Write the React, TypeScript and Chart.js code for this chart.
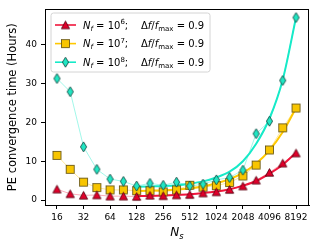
import React, { useEffect, useRef } from 'react';
import { Chart, registerables } from 'chart.js';
Chart.register(...registerables);

// ---- data ----
const NS = [16, 22.6, 32, 45.3, 64, 90.5, 128, 181, 256, 362, 512, 724, 1024, 1448, 2048, 2896, 4096, 5793, 8192];
const T_NF6 = [2.8, 1.6, 1.2, 1.3, 1.0, 1.0, 0.9, 1.2, 1.1, 1.3, 1.4, 1.8, 2.1, 2.7, 3.6, 5.1, 7.1, 9.5, 12.1];
const T_NF7 = [11.5, 7.9, 4.6, 3.2, 2.6, 2.6, 2.4, 2.4, 2.1, 2.6, 3.8, 3.3, 3.7, 4.5, 6.2, 9.0, 12.9, 18.6, 23.7];
const T_NF8 = [31.3, 27.9, 13.7, 7.9, 5.4, 4.8, 3.6, 4.3, 3.8, 4.6, 3.6, 4.1, 5.2, 5.8, 7.7, 17.1, 20.3, 30.8, 47.0];

// fitted trend curves
const FIT_NS = [128, 181, 256, 362, 512, 724, 1024, 1448, 2048, 2896, 4096, 5793, 8192];
const FIT_NF6 = [1.0, 1.05, 1.15, 1.3, 1.5, 1.8, 2.2, 2.8, 3.7, 4.9, 6.8, 9.1, 12.2];
const FIT_NF7 = [2.3, 2.4, 2.5, 2.7, 3.0, 3.5, 4.3, 5.4, 7.0, 9.4, 12.8, 17.5, 23.7];
const FIT_NF8 = [3.4, 3.5, 3.6, 3.8, 4.2, 4.8, 5.8, 7.3, 10.0, 14.5, 21.0, 31.0, 47.0];

const X_TICKS = [16, 32, 64, 128, 256, 512, 1024, 2048, 4096, 8192];
const Y_TICKS = [0, 10, 20, 30, 40];

const FONT = '"DejaVu Sans"';
const RED = 'rgb(240,22,60)';
const YEL = 'rgb(255,200,0)';
const CYA = 'rgb(22,234,200)';
const RED_F = 'rgba(240,22,60,0.35)';
const YEL_F = 'rgba(255,200,0,0.4)';
const CYA_F = 'rgba(22,234,200,0.4)';

function makeCanvas(w: number, h: number, draw: (c: CanvasRenderingContext2D) => void) {
  const cv = document.createElement('canvas');
  cv.width = w;
  cv.height = h;
  const c = cv.getContext('2d')!;
  draw(c);
  return cv;
}

type Seg = { t: string; it?: boolean; sub?: boolean; sup?: boolean };

function richWidth(ctx: CanvasRenderingContext2D, segs: Seg[], size: number) {
  let w = 0;
  for (const s of segs) {
    const fs = s.sub || s.sup ? size * 0.7 : size;
    ctx.font = `${s.it ? 'italic ' : ''}${fs}px ${FONT}`;
    w += ctx.measureText(s.t).width;
  }
  return w;
}

function drawRich(ctx: CanvasRenderingContext2D, segs: Seg[], x: number, y: number, size: number) {
  let cx = x;
  for (const s of segs) {
    const fs = s.sub || s.sup ? size * 0.7 : size;
    ctx.font = `${s.it ? 'italic ' : ''}${fs}px ${FONT}`;
    const dy = s.sub ? size * 0.22 : s.sup ? -size * 0.42 : 0;
    ctx.fillText(s.t, cx, y + dy);
    cx += ctx.measureText(s.t).width;
  }
  return cx;
}

export default function App() {
  const ref = useRef<HTMLCanvasElement | null>(null);

  useEffect(() => {
    if (!ref.current) return;

    const tri = makeCanvas(11, 11, (c) => {
      c.beginPath();
      c.moveTo(5.5, 1.6);
      c.lineTo(1.4, 9.2);
      c.lineTo(9.6, 9.2);
      c.closePath();
      c.fillStyle = '#e0002a';
      c.fill();
      c.strokeStyle = '#4a0010';
      c.lineWidth = 0.8;
      c.stroke();
    });
    const sq = makeCanvas(11, 11, (c) => {
      c.fillStyle = '#f8c500';
      c.fillRect(1.4, 1.4, 8.2, 8.2);
      c.strokeStyle = '#5a4a10';
      c.lineWidth = 0.8;
      c.strokeRect(1.4, 1.4, 8.2, 8.2);
    });
    const dia = makeCanvas(9, 12, (c) => {
      c.beginPath();
      c.moveTo(4.5, 1.0);
      c.lineTo(7.6, 6);
      c.lineTo(4.5, 11.0);
      c.lineTo(1.4, 6);
      c.closePath();
      c.fillStyle = '#20e6c3';
      c.fill();
      c.strokeStyle = '#0e3b35';
      c.lineWidth = 0.8;
      c.stroke();
    });

    const pts = (xs: number[], ys: number[]) => xs.map((x, i) => ({ x, y: ys[i] }));

    const legendRows = [
      { color: RED, marker: tri, exp: '6' },
      { color: YEL, marker: sq, exp: '7' },
      { color: CYA, marker: dia, exp: '8' },
    ];

    const overlay = {
      id: 'overlay',
      afterDraw(chart: any) {
        const ctx: CanvasRenderingContext2D = chart.ctx;
        const a = chart.chartArea;
        ctx.save();
        // full frame
        ctx.strokeStyle = '#000';
        ctx.lineWidth = 1;
        ctx.strokeRect(Math.round(a.left) + 0.5, Math.round(a.top) + 0.5, Math.round(a.right - a.left) - 1, Math.round(a.bottom - a.top));

        // legend box
        const lx = 51, ly = 13, lw = 159, lh = 59, r = 2.5;
        ctx.beginPath();
        ctx.moveTo(lx + r, ly);
        ctx.lineTo(lx + lw - r, ly);
        ctx.quadraticCurveTo(lx + lw, ly, lx + lw, ly + r);
        ctx.lineTo(lx + lw, ly + lh - r);
        ctx.quadraticCurveTo(lx + lw, ly + lh, lx + lw - r, ly + lh);
        ctx.lineTo(lx + r, ly + lh);
        ctx.quadraticCurveTo(lx, ly + lh, lx, ly + lh - r);
        ctx.lineTo(lx, ly + r);
        ctx.quadraticCurveTo(lx, ly, lx + r, ly);
        ctx.closePath();
        ctx.fillStyle = 'rgba(255,255,255,0.85)';
        ctx.fill();
        ctx.strokeStyle = '#d4d4d4';
        ctx.lineWidth = 1;
        ctx.stroke();

        ctx.textBaseline = 'alphabetic';
        ctx.textAlign = 'left';
        ctx.fillStyle = '#000';
        legendRows.forEach((row, i) => {
          const cy = 25 + i * 18.6;
          ctx.strokeStyle = row.color;
          ctx.lineWidth = 1.6;
          ctx.beginPath();
          ctx.moveTo(55, cy);
          ctx.lineTo(76, cy);
          ctx.stroke();
          const m = row.marker;
          ctx.drawImage(m, 65.5 - m.width / 2, cy - m.height / 2);
          ctx.fillStyle = '#000';
          const base = cy + 3.6;
          drawRich(ctx, [
            { t: 'N', it: true },
            { t: 'f', it: true, sub: true },
            { t: ' = 10' },
            { t: row.exp, sup: true },
            { t: ';' },
          ], 83, base, 10);
          drawRich(ctx, [
            { t: 'Δ' },
            { t: 'f', it: true },
            { t: '/' },
            { t: 'f', it: true },
            { t: 'max', sub: true },
            { t: ' = 0.9' },
          ], 141, base, 10);
        });

        // y title
        ctx.save();
        ctx.translate(13, (a.top + a.bottom) / 2);
        ctx.rotate(-Math.PI / 2);
        ctx.textAlign = 'center';
        ctx.textBaseline = 'middle';
        ctx.font = `11.5px ${FONT}`;
        ctx.fillStyle = '#000';
        ctx.fillText('PE convergence time (Hours)', 0, 0);
        ctx.restore();

        // x title
        const xsegs: Seg[] = [{ t: 'N', it: true }, { t: 's', it: true, sub: true }];
        const w = richWidth(ctx, xsegs, 12);
        ctx.textAlign = 'left';
        ctx.fillStyle = '#000';
        drawRich(ctx, xsegs, (a.left + a.right) / 2 - w / 2, 236, 12);
        ctx.restore();
      },
    };

    const chart = new Chart(ref.current, {
      type: 'line',
      data: {
        datasets: [
          {
            data: pts(NS, T_NF6), borderColor: RED_F, borderWidth: 1, pointStyle: tri as any,
            pointRadius: 5, pointHoverRadius: 5, tension: 0, order: 0,
          },
          {
            data: pts(NS, T_NF8), borderColor: CYA_F, borderWidth: 1, pointStyle: dia as any,
            pointRadius: 5, pointHoverRadius: 5, tension: 0, order: 1,
          },
          {
            data: pts(NS, T_NF7), borderColor: YEL_F, borderWidth: 1, pointStyle: sq as any,
            pointRadius: 5, pointHoverRadius: 5, tension: 0, order: 2,
          },
          {
            data: pts(FIT_NS, FIT_NF6), borderColor: RED, borderWidth: 2, pointRadius: 0,
            cubicInterpolationMode: 'monotone', order: 3,
          },
          {
            data: pts(FIT_NS, FIT_NF7), borderColor: YEL, borderWidth: 2, pointRadius: 0,
            cubicInterpolationMode: 'monotone', order: 4,
          },
          {
            data: pts(FIT_NS, FIT_NF8), borderColor: CYA, borderWidth: 2, pointRadius: 0,
            cubicInterpolationMode: 'monotone', order: 5,
          },
        ] as any,
      },
      options: {
        responsive: false,
        animation: false,
        events: [],
        layout: { padding: { top: 8, right: 8, left: 0, bottom: 0 } },
        plugins: { legend: { display: false }, tooltip: { enabled: false } },
        scales: {
          x: {
            type: 'logarithmic',
            min: 11.7,
            max: 11495,
            afterBuildTicks: (s: any) => { s.ticks = X_TICKS.map((v) => ({ value: v })); },
            afterFit: (s: any) => { s.height = 43; },
            ticks: {
              callback: (v: any) => String(v),
              font: { family: FONT, size: 9 },
              color: '#000',
              padding: 3,
              maxRotation: 0,
              autoSkip: false,
            },
            grid: { drawOnChartArea: false, drawTicks: true, tickLength: 4, color: '#000' },
            border: { display: true, color: '#000', width: 1 },
          },
          y: {
            type: 'linear',
            min: -1.28,
            max: 49.1,
            afterBuildTicks: (s: any) => { s.ticks = Y_TICKS.map((v) => ({ value: v })); },
            afterFit: (s: any) => { s.width = 45; },
            ticks: {
              callback: (v: any) => String(v),
              font: { family: FONT, size: 9 },
              color: '#000',
              padding: 4,
            },
            grid: { drawOnChartArea: false, drawTicks: true, tickLength: 4, color: '#000' },
            border: { display: true, color: '#000', width: 1 },
          },
        },
      } as any,
      plugins: [overlay],
    });

    return () => chart.destroy();
  }, []);

  return (
    <div style={{ position: 'absolute', left: 0, top: 0, width: 317, height: 248, background: '#fff' }}>
      <canvas ref={ref} width={317} height={248} style={{ width: 317, height: 248, display: 'block' }} />
    </div>
  );
}
